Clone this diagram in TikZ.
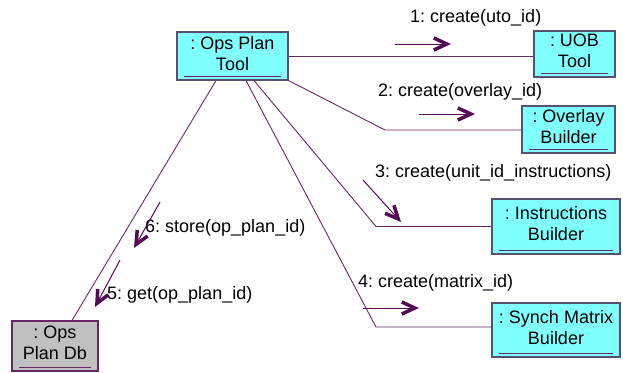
\documentclass[tikz,border=0pt]{standalone}
\usepackage{fontspec}
\setmainfont{Liberation Sans}
\usepackage{xcolor}
\usepackage{tikz}
\usetikzlibrary{arrows.meta,positioning}
\frenchspacing

\definecolor{objfill}{RGB}{128,255,255}
\definecolor{dbfill}{RGB}{192,192,192}
\definecolor{objedge}{RGB}{88,80,112}
\definecolor{linkcol}{RGB}{104,40,104}
\definecolor{msgcol}{RGB}{84,10,84}

\begin{document}
\begin{tikzpicture}[x=1pt, y=-1pt,
    obj/.style={rectangle, draw=objedge, fill=objfill, line width=1.2pt, align=center, inner sep=0pt, text depth=6pt, font=\fontsize{18}{21}\selectfont,
        path picture={\draw[linkcol, line width=1pt] ([xshift=7pt,yshift=3.5pt]path picture bounding box.south west) -- ([xshift=-7pt,yshift=3.5pt]path picture bounding box.south east);}},
    store/.style={obj, fill=dbfill, draw=linkcol},
    link/.style={draw=linkcol, line width=0.9pt},
    msgarrow/.style={draw=msgcol, line width=1pt, -{Straight Barb[length=13pt,width=12pt,line width=3.5pt]}},
    msg/.style={anchor=west, inner sep=0pt, font=\fontsize{18}{21}\selectfont}
]
    \useasboundingbox (0,0) rectangle (623,372);

    % Objects
    \node[obj, minimum width=111pt, minimum height=48pt] (tool) at (232.5,56) {: Ops Plan\\Tool};
    \node[obj, minimum width=81pt, minimum height=46pt] (uob) at (574.5,54) {: UOB\\Tool};
    \node[obj, minimum width=93pt, minimum height=47pt] (overlay) at (568.5,129.5) {: Overlay\\Builder};
    \node[obj, minimum width=128pt, minimum height=55pt] (instr) at (556,226.5) {: Instructions\\Builder};
    \node[obj, minimum width=128pt, minimum height=54pt] (synch) at (556,330) {: Synch Matrix\\Builder};
    \node[store, minimum width=86pt, minimum height=50pt] (db) at (55,346) {: Ops\\Plan Db};

    % Bend points of the links
    \coordinate (b2) at (385,130);
    \coordinate (b3) at (376,226.5);
    \coordinate (b4) at (376,327);

    % Links
    \draw[link] (tool.east) -- (tool.east -| uob.west);
    \draw[link] (tool.south east) -- (b2) -- (b2 -| overlay.west);
    \draw[link] ([xshift=21.5pt]tool.south) -- (b3) -- (b3 -| instr.west);
    \draw[link] ([xshift=13.5pt]tool.south) -- (b4) -- (b4 -| synch.west);
    \draw[link] ([xshift=-16.5pt]tool.south) -- ([xshift=17pt]db.north);

    % Messages
    \node[msg] (m1) at (410,18) {1: create(uto\_id)};
    \draw[msgarrow] (395,44) -- (451,44);
    \node[msg] (m2) at (378,92) {2: create(overlay\_id)};
    \draw[msgarrow] (419,114) -- (475,114);
    \node[msg] (m3) at (375,173) {3: create(unit\_id\_instructions)};
    \draw[msgarrow] (363,180) -- (401,222);
    \node[msg] (m4) at (358,283) {4: create(matrix\_id)};
    \draw[msgarrow] (363,308) -- (419,308);
    \node[msg] (m6) at (145,228) {6: store(op\_plan\_id)};
    \draw[msgarrow] (160,202) -- (134,248);
    \node[msg] (m5) at (107,295) {5: get(op\_plan\_id)};
    \draw[msgarrow] (120,260) -- (95,307);
\end{tikzpicture}
\end{document}
